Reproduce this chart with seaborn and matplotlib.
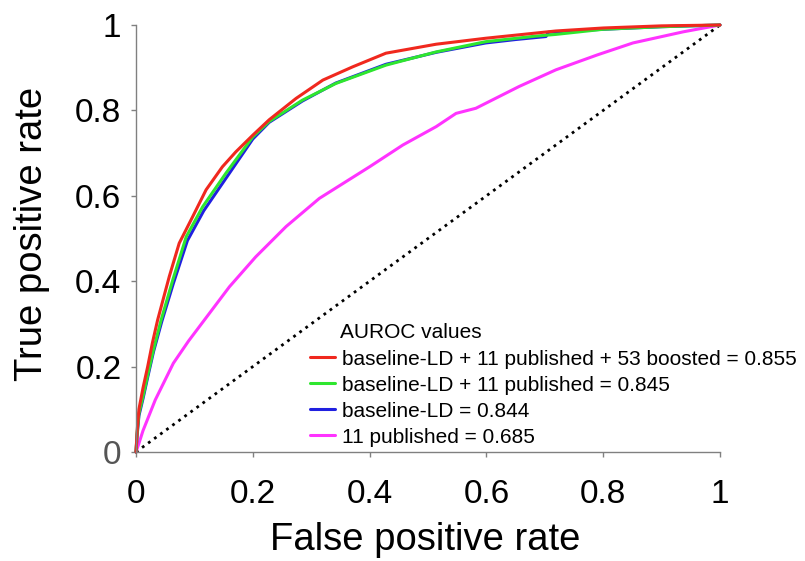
import matplotlib
matplotlib.use("Agg")
import matplotlib.pyplot as plt
import seaborn as sns
import numpy as np
import pandas as pd
from matplotlib.lines import Line2D

# ---------------- data ----------------
red_fpr = [0, 0.002, 0.005, 0.012, 0.02, 0.028, 0.037, 0.057, 0.074, 0.097, 0.120,
           0.148, 0.171, 0.200, 0.228, 0.274, 0.320, 0.371, 0.428, 0.514, 0.599,
           0.719, 0.8, 0.9, 1.0]
red_tpr = [0, 0.05, 0.10, 0.15, 0.20, 0.255, 0.309, 0.411, 0.489, 0.551, 0.614,
           0.668, 0.703, 0.742, 0.778, 0.828, 0.871, 0.902, 0.934, 0.955, 0.969,
           0.986, 0.993, 0.998, 1.0]

green_fpr = [0, 0.002, 0.005, 0.012, 0.02, 0.03, 0.043, 0.063, 0.086, 0.114, 0.154,
             0.200, 0.228, 0.285, 0.342, 0.428, 0.514, 0.599, 0.685, 0.719, 0.8,
             0.9, 1.0]
green_tpr = [0, 0.045, 0.09, 0.13, 0.18, 0.24, 0.309, 0.403, 0.504, 0.574, 0.653,
             0.738, 0.774, 0.824, 0.863, 0.906, 0.937, 0.961, 0.974, 0.978, 0.99,
             0.996, 1.0]

blue_fpr = [0, 0.002, 0.005, 0.012, 0.02, 0.03, 0.044, 0.064, 0.088, 0.116, 0.156,
            0.200, 0.228, 0.285, 0.342, 0.428, 0.514, 0.599, 0.650, 0.702, 0.706,
            0.8, 0.9, 1.0]
blue_tpr = [0, 0.04, 0.085, 0.125, 0.175, 0.235, 0.305, 0.395, 0.495, 0.565, 0.645,
            0.733, 0.772, 0.822, 0.864, 0.908, 0.936, 0.958, 0.966, 0.973, 0.983,
            0.99, 0.996, 1.0]

magenta_fpr = [0, 0.005, 0.012, 0.033, 0.064, 0.09, 0.117, 0.160, 0.205, 0.257,
               0.314, 0.400, 0.457, 0.514, 0.548, 0.582, 0.656, 0.719, 0.790, 0.851,
               0.937, 1.0]
magenta_tpr = [0, 0.02, 0.05, 0.122, 0.208, 0.26, 0.309, 0.387, 0.457, 0.528,
               0.594, 0.668, 0.719, 0.762, 0.793, 0.805, 0.856, 0.895, 0.93, 0.958,
               0.984, 1.0]

chance = [0, 1]

labels = ["baseline-LD + 11 published + 53 boosted = 0.855",
          "baseline-LD + 11 published = 0.845",
          "baseline-LD = 0.844",
          "11 published = 0.685"]
legend_title = "AUROC values"
tick_values = [0, 0.2, 0.4, 0.6, 0.8, 1.0]
tick_labels = ["0", "0.2", "0.4", "0.6", "0.8", "1"]
xlabel = "False positive rate"
ylabel = "True positive rate"

colors = {"red": "#F0281E", "green": "#2EE62E", "blue": "#2020E0", "magenta": "#FF33FF"}

# ---------------- figure ----------------
sns.set_theme(style="white")
plt.rcParams["font.family"] = ["Liberation Sans", "DejaVu Sans"]
plt.rcParams["text.color"] = "black"

fig = plt.figure(figsize=(8.05, 5.61), dpi=100)
ax = fig.add_axes([136 / 805, 109 / 561, 584 / 805, 427 / 561])

lw = 2.2
sns.lineplot(x=chance, y=chance, ax=ax, color="black", linestyle=(0, (1, 1.7)),
             linewidth=2.0, estimator=None, sort=False, legend=False)
for fpr, tpr, c in [(magenta_fpr, magenta_tpr, "magenta"),
                    (blue_fpr, blue_tpr, "blue"),
                    (green_fpr, green_tpr, "green"),
                    (red_fpr, red_tpr, "red")]:
    sns.lineplot(x=fpr, y=tpr, ax=ax, color=colors[c], linewidth=lw,
                 estimator=None, sort=False, legend=False)
for ln in ax.lines:
    ln.set_clip_on(False)
    ln.set_solid_joinstyle("round")

ax.set_xlim(0, 1)
ax.set_ylim(0, 1)
ax.set_xticks(tick_values)
ax.set_xticklabels(tick_labels)
ax.set_yticks(tick_values)
ax.set_yticklabels(tick_labels)

for s in ["top", "right"]:
    ax.spines[s].set_visible(False)
for s in ["left", "bottom"]:
    ax.spines[s].set_color("#808080")
    ax.spines[s].set_linewidth(1.0)

ax.tick_params(axis="both", which="major", labelsize=24, length=3.5, width=1.0,
               color="#808080", labelcolor="black", left=True, bottom=True)
ax.tick_params(axis="y", pad=7)
ax.tick_params(axis="x", pad=16)
ax.get_yticklabels()[0].set_color("#555555")

ax.set_xlabel(xlabel, fontsize=27.5, color="black")
ax.set_ylabel(ylabel, fontsize=27.5, color="black")
ax.xaxis.set_label_coords(0.495, -0.163)
ax.yaxis.set_label_coords(-0.147, 0.51)

handles = [Line2D([], [], color=colors[c], linewidth=lw)
           for c in ["red", "green", "blue", "magenta"]]
leg = ax.legend(handles, labels, loc="upper left", bbox_to_anchor=(0.298, 0.240),
                frameon=False, fontsize=15, handlelength=1.2, handletextpad=0.34,
                labelspacing=0.34, borderpad=0, borderaxespad=0)
for t in leg.get_texts():
    t.set_color("black")
ax.text(0.350, 0.267, legend_title, transform=ax.transAxes, fontsize=15,
        ha="left", va="baseline", color="black")

fig.savefig("out.png", dpi=100)
